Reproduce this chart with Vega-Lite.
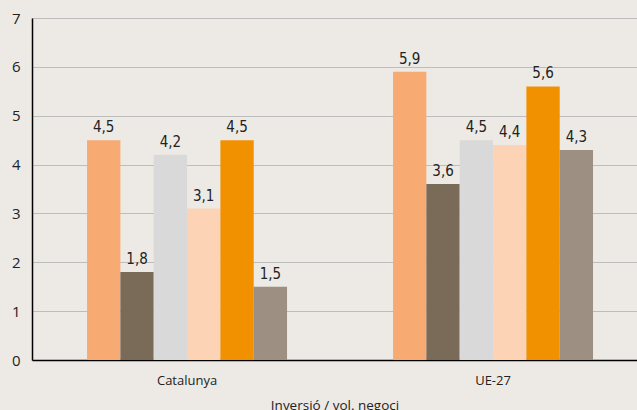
{
  "$schema": "https://vega.github.io/schema/vega-lite/v6.json",
  "autosize": "none",
  "width": 605,
  "height": 342,
  "padding": {"left": 32, "top": 18, "right": 0, "bottom": 50},
  "background": "#edeae6",
  "config": {
    "view": {"stroke": null},
    "locale": {"number": {"decimal": ",", "thousands": ".", "grouping": [3], "currency": ["", " €"]}}
  },
  "data": {"values": [
    {"regio": "Catalunya", "serie": "A", "valor": 4.5},
    {"regio": "Catalunya", "serie": "B", "valor": 1.8},
    {"regio": "Catalunya", "serie": "C", "valor": 4.2},
    {"regio": "Catalunya", "serie": "D", "valor": 3.1},
    {"regio": "Catalunya", "serie": "E", "valor": 4.5},
    {"regio": "Catalunya", "serie": "F", "valor": 1.5},
    {"regio": "UE-27", "serie": "A", "valor": 5.9},
    {"regio": "UE-27", "serie": "B", "valor": 3.6},
    {"regio": "UE-27", "serie": "C", "valor": 4.5},
    {"regio": "UE-27", "serie": "D", "valor": 4.4},
    {"regio": "UE-27", "serie": "E", "valor": 5.6},
    {"regio": "UE-27", "serie": "F", "valor": 4.3}
  ]},
  "encoding": {
    "x": {
      "field": "regio", "type": "nominal",
      "scale": {"paddingInner": 0.3464, "paddingOuter": 0.1618, "align": 0.556},
      "axis": {
        "title": "Inversió / vol. negoci", "titleFont": "Open Sans", "titleFontSize": 13.5, "titleFontWeight": "normal", "titleColor": "#222", "titlePadding": 11,
        "labelAngle": 0, "labelFont": "Open Sans", "labelFontSize": 13, "labelColor": "#222", "labelPadding": 14,
        "ticks": false, "domainColor": "#000", "domainWidth": 1.5
      }
    },
    "xOffset": {"field": "serie", "type": "nominal", "scale": {"paddingInner": 0, "paddingOuter": 0}},
    "y": {
      "field": "valor", "type": "quantitative",
      "scale": {"domain": [0, 7], "nice": false},
      "axis": {
        "title": null, "values": [0, 1, 2, 3, 4, 5, 6, 7],
        "labelFont": "Open Sans", "labelFontSize": 15, "labelColor": "#222", "labelPadding": 12,
        "labelOverlap": false,
        "ticks": false, "domainColor": "#000", "domainWidth": 1.5,
        "gridColor": "#bdbdbd", "gridWidth": 1
      }
    }
  },
  "layer": [
    {
      "mark": {"type": "bar"},
      "encoding": {
        "color": {
          "field": "serie", "type": "nominal", "legend": null,
          "scale": {"domain": ["A", "B", "C", "D", "E", "F"], "range": ["#f7aa72", "#7a6a58", "#d9d9d9", "#fcd3b5", "#f29100", "#9d9083"]}
        }
      }
    },
    {
      "mark": {"type": "text", "baseline": "alphabetic", "dy": -8, "font": "Liberation Sans Narrow, DejaVu Sans Condensed", "fontSize": 15, "color": "#222"},
      "encoding": {
        "text": {"field": "valor", "type": "quantitative", "format": ".1f"}
      }
    }
  ]
}
